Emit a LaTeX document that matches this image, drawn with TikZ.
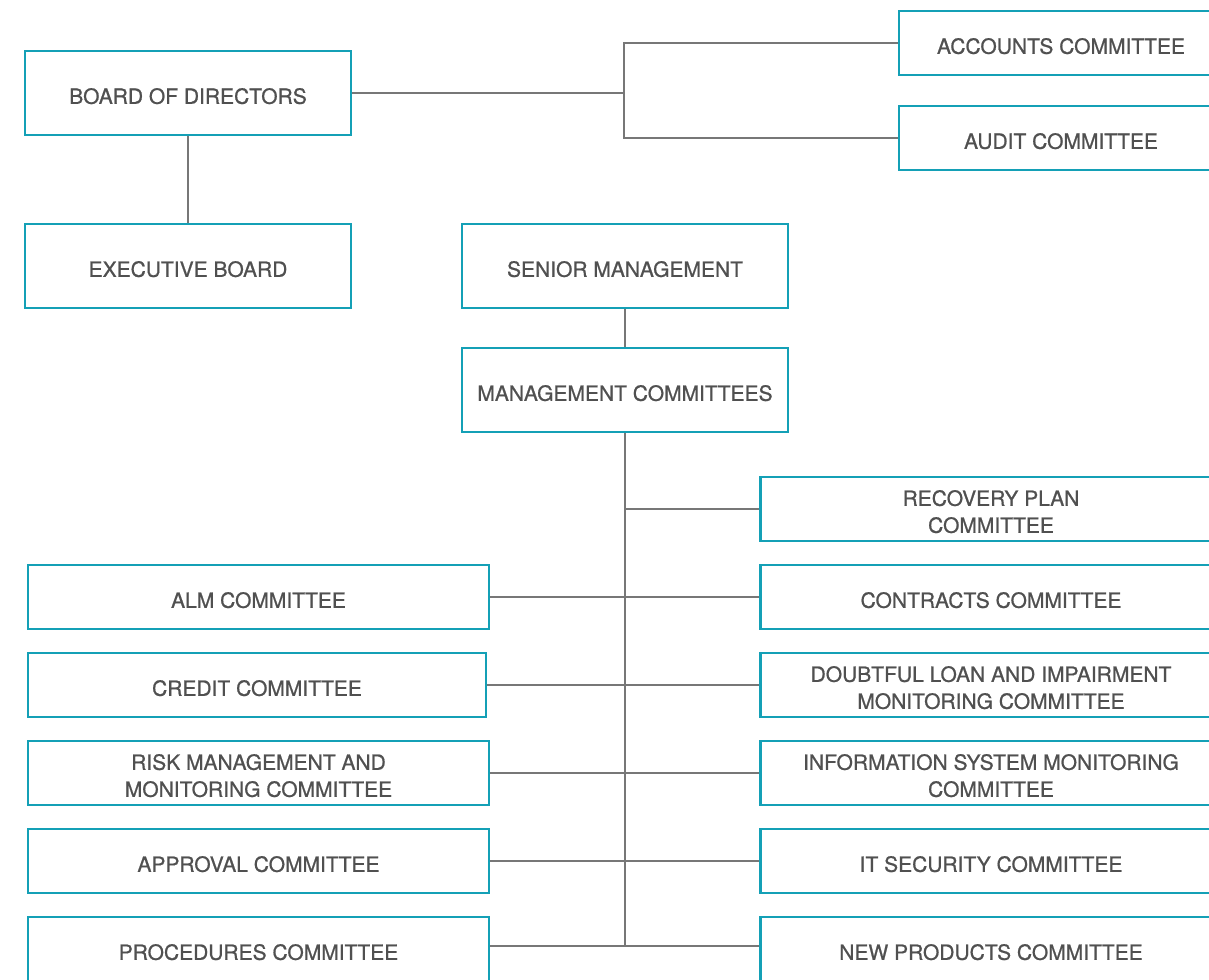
\documentclass[tikz,border=0pt]{standalone}
\usepackage{fontspec}
\setmainfont{TeX Gyre Heros}
\newfontfamily\unitfont{TeX Gyre Heros}[FakeBold=0.8]
\usepackage{tikz}
\usetikzlibrary{positioning}

\definecolor{boxteal}{HTML}{14A0B6}
\definecolor{txtgray}{HTML}{505050}
\definecolor{lnkgray}{HTML}{777777}

\tikzset{
  unit/.style={draw=boxteal,line width=1.2pt,fill=white,text=txtgray,
    inner sep=0pt,align=center,text height=11pt,
    font=\unitfont\fontsize{10.5}{13.5}\selectfont},
  bigunit/.style={unit,minimum width=163pt,minimum height=42pt},
  smallunit/.style={unit,minimum width=162pt,minimum height=32pt},
  cmte/.style={unit,minimum width=230.5pt,minimum height=32pt},
  twoline/.style={text height=24pt},
  link/.style={draw=lnkgray,line width=1.1pt}
}

\begin{document}
\begin{tikzpicture}[x=0.5pt,y=-0.5pt,node distance=44pt,on grid]
    \fill[white] (0,0) rectangle (1209,979);
    \clip (0,0) rectangle (1209,979);
    % board level
    \node[bigunit] (bod)      at (188,93)    {BOARD OF DIRECTORS};
    \node[bigunit] (exec)     at (188,266)   {EXECUTIVE BOARD};
    \node[smallunit] (acc)    at (1061,43)   {ACCOUNTS COMMITTEE};
    \node[smallunit] (audit)  at (1061,138)  {AUDIT COMMITTEE};
    \node[bigunit] (senior)   at (625,266)   {SENIOR MANAGEMENT};
    \node[bigunit] (mgmt)     [below=62pt of senior] {MANAGEMENT COMMITTEES};
    % right column
    \node[cmte,twoline] (recovery) at (991,509) {RECOVERY PLAN\\COMMITTEE};
    \node[cmte] (contracts)   [below=of recovery]  {CONTRACTS COMMITTEE};
    \node[cmte,twoline] (doubtful) [below=of contracts] {DOUBTFUL LOAN AND IMPAIRMENT\\MONITORING COMMITTEE};
    \node[cmte,twoline] (infosys)  [below=of doubtful]  {INFORMATION SYSTEM MONITORING\\COMMITTEE};
    \node[cmte] (itsec)       [below=of infosys]   {IT SECURITY COMMITTEE};
    \node[cmte] (newprod)     [below=of itsec]     {NEW PRODUCTS COMMITTEE};
    % left column
    \node[cmte] (alm)         at (258.5,597) {ALM COMMITTEE};
    \node[cmte,minimum width=229pt] (credit) at (257,685) {CREDIT COMMITTEE};
    \node[cmte,twoline] (risk) [below=of alm,yshift=-44pt] {RISK MANAGEMENT AND\\MONITORING COMMITTEE};
    \node[cmte] (approval)    [below=of risk]      {APPROVAL COMMITTEE};
    \node[cmte] (procedures)  [below=of approval]  {PROCEDURES COMMITTEE};
    \coordinate (fork) at (624,93);
    \coordinate (trunk) at (624,946);
    % top edges
    \draw[link] (bod.east) -- (fork);
    \draw[link] (acc.west) -| (fork) |- (audit.west);
    \draw[link] (bod.south) -- (exec.north);
    \draw[link] (senior.south) -- (mgmt.south |- mgmt.north);
    % trunk and branches
    \draw[link] (mgmt.south) -- (mgmt.south |- trunk);
    \draw[link] (mgmt.south |- recovery.west) -- (recovery.west);
    \draw[link] (alm.east) -- (contracts.west);
    \draw[link] (credit.east) -- (doubtful.west);
    \draw[link] (risk.east) -- (infosys.west);
    \draw[link] (approval.east) -- (itsec.west);
    \draw[link] (procedures.east |- trunk) -- (newprod.west |- trunk);
\end{tikzpicture}
\end{document}
